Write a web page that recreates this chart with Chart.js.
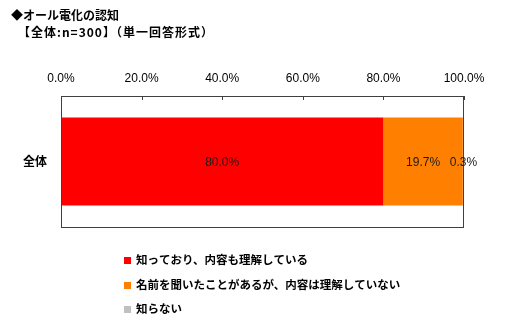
<!DOCTYPE html>
<html>
<head>
<meta charset="utf-8">
<script src="https://cdn.jsdelivr.net/npm/chart.js@4"></script>
<style>
html,body{margin:0;padding:0;background:#fff;}
#wrap{position:relative;width:520px;height:329px;}
</style>
</head>
<body>
<div id="wrap"><canvas id="c" width="520" height="329"></canvas></div>
<script>
const titleLines = ["◆オール電化の認知", "【全体:n=300】（単一回答形式）"];
const categories = ["全体"];
const seriesNames = ["知っており、内容も理解している", "名前を聞いたことがあるが、内容は理解していない", "知らない"];
const seriesValues = [[80.0], [19.7], [0.3]];
const seriesColors = ["#FF0000", "#FF8000", "#C0C0C0"];
const tickValues = [0, 20, 40, 60, 80, 100];

const JP = '"Noto Sans CJK JP", sans-serif';
const LAT = '"Liberation Sans", Arial, sans-serif';

const datasets = seriesNames.map((n, i) => ({
  label: n,
  data: seriesValues[i],
  backgroundColor: seriesColors[i],
  borderWidth: 0,
  barPercentage: 0.67,
  categoryPercentage: 1.0
}));

const decor = {
  id: 'decor',
  afterDraw(chart) {
    const ctx = chart.ctx;
    const a = chart.chartArea;
    const xs = chart.scales.x;
    ctx.save();
    // frame
    ctx.strokeStyle = '#404040';
    ctx.lineWidth = 1;
    ctx.strokeRect(Math.round(a.left) + 0.5, Math.round(a.top) + 0.5, Math.round(a.right - a.left) - 1, Math.round(a.bottom - a.top));
    // inward ticks on top
    tickValues.forEach(v => {
      const px = Math.round(xs.getPixelForValue(v)) + 0.5;
      ctx.beginPath();
      ctx.moveTo(px, a.top);
      ctx.lineTo(px, a.top + 4);
      ctx.stroke();
    });
    // data labels
    ctx.fillStyle = '#1a1a1a';
    ctx.font = '12px ' + LAT;
    ctx.textAlign = 'center';
    ctx.textBaseline = 'middle';
    chart.data.datasets.forEach((ds, i) => {
      const meta = chart.getDatasetMeta(i);
      meta.data.forEach((bar, j) => {
        const p = bar.getCenterPoint();
        ctx.fillText(ds.data[j].toFixed(1) + '%', p.x, p.y + 1);
      });
    });
    // titles
    ctx.fillStyle = '#000';
    ctx.textAlign = 'left';
    ctx.font = 'bold 12px ' + JP;
    ctx.fillText(titleLines[0], 11, 15);
    ctx.letterSpacing = '1px';
    ctx.fillText(titleLines[1], 18, 32);
    ctx.letterSpacing = '0px';
    // legend
    const ly = [260, 285, 309];
    chart.data.datasets.forEach((ds, i) => {
      ctx.fillStyle = ds.backgroundColor;
      ctx.fillRect(124, ly[i] - 3, 7, 7);
      ctx.fillStyle = '#000';
      ctx.font = 'bold 11.5px ' + JP;
      ctx.fillText(ds.label, 136, ly[i]);
    });
    ctx.restore();
  }
};

new Chart(document.getElementById('c'), {
  type: 'bar',
  data: { labels: categories, datasets },
  options: {
    indexAxis: 'y',
    responsive: false,
    animation: false,
    layout: { padding: { left: 0, right: 56, top: 0, bottom: 102 } },
    plugins: { legend: { display: false }, tooltip: { enabled: false } },
    scales: {
      x: {
        position: 'top',
        stacked: true,
        min: 0, max: 100,
        afterBuildTicks(scale) { scale.ticks = tickValues.map(v => ({ value: v })); },
        afterFit(scale) { scale.height = 96; },
        ticks: {
          padding: 10,
          color: '#000',
          font: { family: LAT, size: 12 },
          callback: v => v.toFixed(1) + '%',
          maxRotation: 0
        },
        grid: { display: false, drawTicks: false },
        border: { display: false }
      },
      y: {
        stacked: true,
        afterFit(scale) { scale.width = 61; },
        ticks: { padding: 14, color: '#000', font: { family: JP, size: 12, weight: 'bold' } },
        grid: { display: false, drawTicks: false },
        border: { display: false }
      }
    }
  },
  plugins: [decor]
});
</script>
</body>
</html>
